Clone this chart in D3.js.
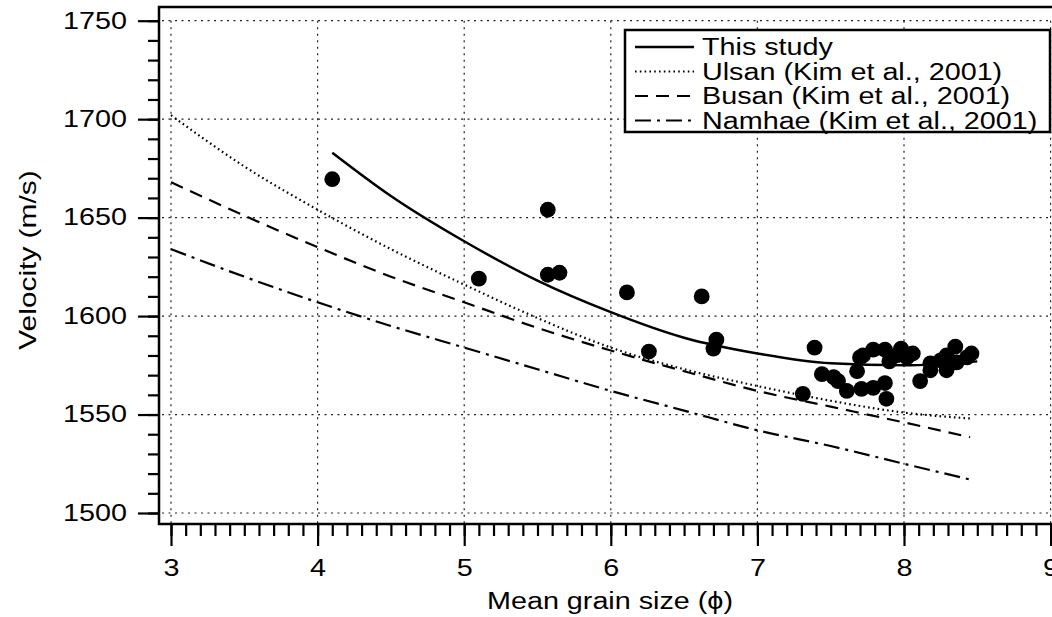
<!DOCTYPE html>
<html>
<head>
<meta charset="utf-8">
<script src="https://cdn.jsdelivr.net/npm/d3@7"></script>
<style>
  body { margin: 0; background: #fff; }
  svg { display: block; font-family: "Liberation Sans", Arial, sans-serif; }
  .tick-label { font-size: 23px; fill: #000; }
  .axis-title { font-size: 23px; fill: #000; }
  .legend-text { font-size: 23px; fill: #000; }
</style>
</head>
<body>
<div id="chart"></div>
<script>
  /* ----------------------- Data ----------------------- */
  const xTicks = [3, 4, 5, 6, 7, 8, 9];
  const yTicks = [1500, 1550, 1600, 1650, 1700, 1750];

  const seriesNames = [
    "This study",
    "Ulsan (Kim et al., 2001)",
    "Busan (Kim et al., 2001)",
    "Namhae (Kim et al., 2001)",
  ];

  // regression curves
  const thisStudyGrain = [4.1, 4.5, 5, 5.5, 6, 6.5, 7, 7.5, 8, 8.5];
  const thisStudyVel = [1683, 1661, 1638, 1618, 1602, 1589, 1581, 1576, 1575, 1577];

  const refGrain = [3, 3.5, 4, 4.5, 5, 5.5, 6, 6.5, 7, 7.5, 8, 8.45];
  const ulsanVel = [1702, 1676, 1654, 1634, 1616, 1599, 1584, 1573, 1564.5, 1557, 1551, 1548];
  const busanVel = [1668, 1651, 1635, 1620, 1607, 1594, 1582.5, 1572, 1562, 1554, 1546, 1538.5];
  const namhaeVel = [1634, 1620, 1607, 1595, 1584, 1573, 1562, 1552, 1542, 1534, 1525, 1517];

  // measured samples
  const sampleGrain = [4.10, 5.10, 5.57, 5.57, 5.65, 6.11, 6.26, 6.62, 6.70, 6.72,
    7.31, 7.39, 7.44, 7.52, 7.55, 7.61, 7.68, 7.70, 7.71, 7.72,
    7.79, 7.79, 7.87, 7.87, 7.88, 7.90, 7.95, 7.98, 8.02, 8.06,
    8.11, 8.18, 8.18, 8.25, 8.29, 8.29, 8.35, 8.36, 8.43, 8.46];
  const sampleVel = [1669.5, 1619, 1654, 1621, 1622, 1612, 1582, 1610, 1583.5, 1588,
    1560.5, 1584, 1570.5, 1569, 1567, 1562, 1572, 1579, 1563, 1580,
    1583, 1563.5, 1583, 1566, 1558, 1577, 1580, 1583.5, 1579, 1581,
    1567, 1576, 1572.5, 1577.5, 1572.5, 1580, 1584.5, 1576.5, 1579, 1581];

  /* ----------------------- Dimensions ----------------------- */
  const W = 1052, H = 617;
  const frame = { left: 159, top: 7, right: 1062, bottom: 524 };
  const sx = 1.25; // the original typeface is wider than Arial

  const svg = d3.select("#chart").append("svg")
    .attr("width", W).attr("height", H);

  const x = d3.scaleLinear().domain([3, 9]).range([171, 1050.6]);
  const y = d3.scaleLinear().domain([1500, 1750]).range([513, 20.7]);

  // stretch text horizontally around its anchor
  function widen(sel, k = sx) {
    sel.each(function () {
      const t = d3.select(this);
      const tx = +t.attr("x") || 0;
      t.attr("x", tx / k).attr("transform", `scale(${k},1)`);
    });
  }

  /* ----------------------- Grid ----------------------- */
  const grid = svg.append("g")
    .attr("stroke", "#222").attr("stroke-width", 1.2)
    .attr("stroke-dasharray", "2,4.5");

  grid.selectAll(".vgrid").data(xTicks).join("line")
    .attr("x1", (d) => x(d)).attr("x2", (d) => x(d))
    .attr("y1", y(1750)).attr("y2", frame.bottom);

  grid.selectAll(".hgrid").data(yTicks).join("line")
    .attr("y1", (d) => y(d)).attr("y2", (d) => y(d))
    .attr("x1", frame.left + 3).attr("x2", frame.right);

  /* ----------------------- Axes ----------------------- */
  const xMinor = d3.range(30, 91).map((d) => d / 10);
  const yMinor = d3.range(1500, 1751, 10);

  const xMinorAxis = svg.append("g")
    .attr("transform", `translate(0,${frame.bottom})`)
    .call(d3.axisBottom(x).tickValues(xMinor).tickSize(12).tickFormat(""));
  const xAxis = svg.append("g")
    .attr("transform", `translate(0,${frame.bottom})`)
    .call(d3.axisBottom(x).tickValues(xTicks).tickSize(22).tickPadding(14).tickFormat(d3.format("d")));

  const yMinorAxis = svg.append("g")
    .attr("transform", `translate(${frame.left},0)`)
    .call(d3.axisLeft(y).tickValues(yMinor).tickSize(11).tickFormat(""));
  const yAxis = svg.append("g")
    .attr("transform", `translate(${frame.left},0)`)
    .call(d3.axisLeft(y).tickValues(yTicks).tickSize(21).tickPadding(11).tickFormat(d3.format("d")));

  [xMinorAxis, xAxis, yMinorAxis, yAxis].forEach((g) => {
    g.select(".domain").remove();
    g.selectAll(".tick line").attr("stroke", "#000").attr("stroke-width", 2.2);
    g.selectAll(".tick text").attr("class", "tick-label").attr("font-size", null).attr("font-family", null);
  });
  widen(xAxis.selectAll(".tick text"));
  widen(yAxis.selectAll(".tick text"));

  // frame
  svg.append("rect")
    .attr("x", frame.left).attr("y", frame.top)
    .attr("width", frame.right - frame.left).attr("height", frame.bottom - frame.top)
    .attr("fill", "none").attr("stroke", "#000").attr("stroke-width", 2.5);

  // axis titles
  svg.append("g").attr("transform", "translate(610,609)")
    .append("text")
    .attr("class", "axis-title")
    .attr("text-anchor", "middle")
    .text("Mean grain size (\u03D5)")
    .call(widen);

  svg.append("g").attr("transform", "translate(36,260) rotate(-90)")
    .append("text")
    .attr("class", "axis-title")
    .attr("font-size", 24)
    .attr("text-anchor", "middle")
    .text("Velocity (m/s)")
    .call(widen, 1.3);

  /* ----------------------- Curves ----------------------- */
  const styles = [
    { dash: null, width: 2.5 },
    { dash: "1.6,3.2", width: 2.2 },
    { dash: "13,8", width: 2.2 },
    { dash: "16,6,3,6", width: 2.2 },
  ];

  const curveData = [
    d3.zip(thisStudyGrain, thisStudyVel),
    d3.zip(refGrain, ulsanVel),
    d3.zip(refGrain, busanVel),
    d3.zip(refGrain, namhaeVel),
  ];

  const line = d3.line()
    .x((d) => x(d[0]))
    .y((d) => y(d[1]))
    .curve(d3.curveMonotoneX);

  svg.append("g").selectAll("path").data(curveData).join("path")
    .attr("d", line)
    .attr("fill", "none")
    .attr("stroke", "#000")
    .attr("stroke-width", (d, i) => styles[i].width)
    .attr("stroke-dasharray", (d, i) => styles[i].dash);

  /* ----------------------- Samples ----------------------- */
  svg.append("g").selectAll("circle")
    .data(d3.zip(sampleGrain, sampleVel))
    .join("circle")
    .attr("cx", (d) => x(d[0]))
    .attr("cy", (d) => y(d[1]))
    .attr("r", 7.9)
    .attr("fill", "#000");

  /* ----------------------- Legend ----------------------- */
  const legend = svg.append("g").attr("transform", "translate(625,30)");
  legend.append("rect")
    .attr("width", 425).attr("height", 102)
    .attr("fill", "#fff").attr("stroke", "#000").attr("stroke-width", 2.5);

  const rows = legend.selectAll(".row").data(seriesNames).join("g")
    .attr("transform", (d, i) => `translate(0,${17 + i * 24.5})`);

  rows.append("line")
    .attr("x1", 10).attr("x2", 69)
    .attr("stroke", "#000")
    .attr("stroke-width", (d, i) => styles[i].width)
    .attr("stroke-dasharray", (d, i) => styles[i].dash);

  rows.append("text")
    .attr("class", "legend-text")
    .attr("x", 77).attr("dy", "0.36em")
    .text((d) => d)
    .call(widen);
</script>
</body>
</html>
